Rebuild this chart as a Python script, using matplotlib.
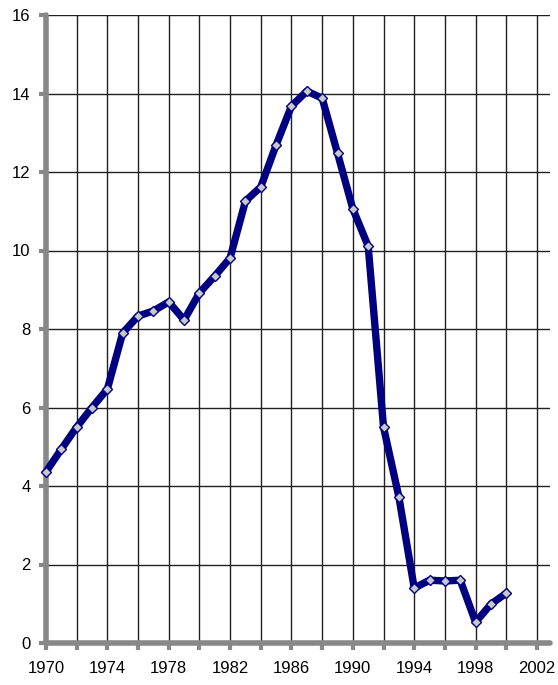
import matplotlib
matplotlib.use("Agg")
import matplotlib.pyplot as plt
from matplotlib.ticker import MultipleLocator

years = list(range(1970, 2001))
values = [4.36, 4.94, 5.50, 6.00, 6.47, 7.90, 8.33, 8.46, 8.69, 8.23,
          8.92, 9.35, 9.81, 11.26, 11.62, 12.69, 13.68, 14.06, 13.88, 12.48,
          11.06, 10.11, 5.50, 3.72, 1.40, 1.60, 1.58, 1.60, 0.53, 0.99, 1.27]
xtick_labels = [1970, 1974, 1978, 1982, 1986, 1990, 1994, 1998, 2002]

plt.rcParams['font.family'] = ['Liberation Sans', 'DejaVu Sans']

fig = plt.figure(figsize=(5.58, 6.85), dpi=100)
ax = fig.add_axes([46/558, 1-643/685, (550-46)/558, (643-15)/685])

ax.set_xlim(1970, 2002.85)
ax.set_ylim(0, 16)

ax.yaxis.set_major_locator(MultipleLocator(2))
ax.set_xticks(list(range(1970, 2003, 2)))
ax.set_xticklabels([str(y) if y in xtick_labels else '' for y in range(1970, 2003, 2)])

ax.grid(True, color='#202020', linewidth=1.0)
ax.set_axisbelow(True)

for s in ['top', 'right']:
    ax.spines[s].set_visible(False)
for s in ['left', 'bottom']:
    ax.spines[s].set_color('#888888')
    ax.spines[s].set_linewidth(4)
    ax.spines[s].set_capstyle('round')

ax.tick_params(axis='both', colors='#888888', width=3, length=5, labelsize=12,
               labelcolor='black')
ax.tick_params(axis='x', pad=8)
ax.tick_params(axis='y', pad=6)
for t in ax.xaxis.get_ticklines() + ax.yaxis.get_ticklines():
    t.set_solid_capstyle('round')

ax.plot(years, values, color='#000080', linewidth=5.3, marker='D', markersize=5.5,
        markerfacecolor='#c8c8c8', markeredgecolor='#000080', markeredgewidth=1,
        solid_joinstyle='round', clip_on=False, zorder=5)

fig.savefig('out.png', dpi=100)
